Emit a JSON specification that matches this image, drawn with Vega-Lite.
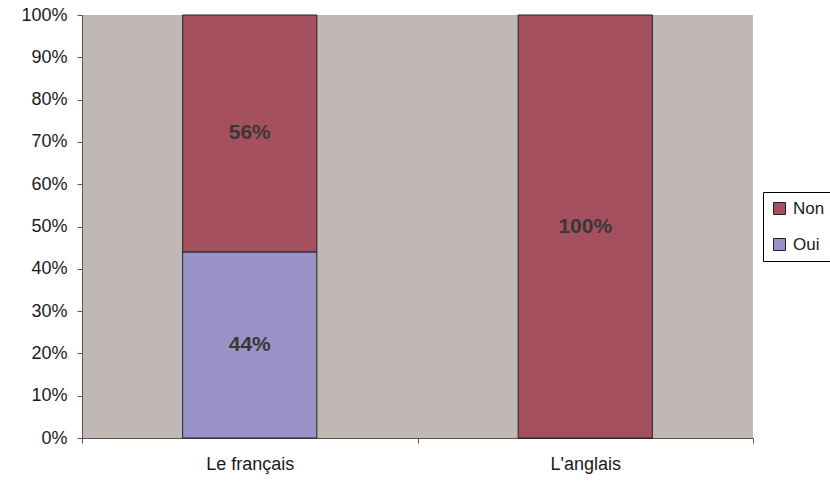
{
  "$schema": "https://vega.github.io/schema/vega-lite/v6.json",
  "autosize": "none",
  "width": 671,
  "height": 423,
  "padding": {"left": 82, "top": 15, "right": 77, "bottom": 43},
  "background": "white",
  "config": {
    "view": {"fill": "#C0B8B5", "stroke": null},
    "font": "Liberation Sans",
    "axis": {"labelFont": "Liberation Sans", "labelFontSize": 18, "labelColor": "#1a1a1a", "domainColor": "#555555", "tickColor": "#555555", "grid": false, "title": null}
  },
  "data": {
    "values": [
      {"category": "Le français", "answer": "Oui", "value": 0.44},
      {"category": "Le français", "answer": "Non", "value": 0.56},
      {"category": "L'anglais", "answer": "Oui", "value": 0},
      {"category": "L'anglais", "answer": "Non", "value": 1.0}
    ]
  },
  "transform": [
    {"stack": "value", "groupby": ["category"], "sort": [{"field": "answer", "order": "descending"}], "as": ["v0", "v1"]},
    {"calculate": "(datum.v0 + datum.v1) / 2", "as": "mid"}
  ],
  "encoding": {
    "x": {
      "field": "category", "type": "nominal", "sort": ["Le français", "L'anglais"],
      "scale": {"paddingInner": 0, "paddingOuter": 0},
      "axis": {"labelAngle": 0, "tickBand": "extent", "tickSize": 5, "labelPadding": 12, "labelFontSize": 18}
    }
  },
  "layer": [
    {
      "mark": {"type": "bar", "width": {"band": 0.4}, "stroke": "#222222", "strokeWidth": 1},
      "encoding": {
        "y": {"field": "v0", "type": "quantitative", "scale": {"domain": [0, 1], "nice": false},
          "axis": {"values": [0,0.1,0.2,0.3,0.4,0.5,0.6,0.7,0.8,0.9,1], "format": ".0%", "tickSize": 5, "labelPadding": 10}},
        "y2": {"field": "v1"},
        "color": {
          "field": "answer", "type": "nominal",
          "scale": {"domain": ["Non", "Oui"], "range": ["#A5505F", "#9A93C8"]},
          "legend": {
            "title": null, "orient": "none", "legendX": 681, "legendY": 177,
            "strokeColor": "#000000", "fillColor": "#ffffff", "padding": 8,
            "labelFontSize": 17, "labelColor": "#1a1a1a", "labelFont": "Liberation Sans",
            "symbolType": "square", "symbolSize": 144, "symbolStrokeColor": "#222222", "symbolStrokeWidth": 1,
            "rowPadding": 18, "labelOffset": 5
          }
        }
      }
    },
    {
      "transform": [{"filter": "datum.value > 0"}],
      "mark": {"type": "text", "fontWeight": "bold", "fontSize": 21, "color": "#383838", "font": "Liberation Sans"},
      "encoding": {
        "y": {"field": "mid", "type": "quantitative", "scale": {"domain": [0, 1], "nice": false}},
        "text": {"field": "value", "type": "quantitative", "format": ".0%"}
      }
    }
  ]
}
